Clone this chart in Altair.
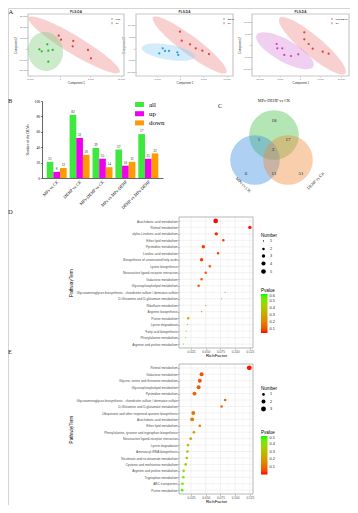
import altair as alt
import pandas as pd

W, H = 342, 497
SANS = "Liberation Sans"
SERIF = "Liberation Serif"

# ---------------- A: PLS-DA score plots ----------------
a1_group = ["MPs"] * 6 + ["CK"] * 6
a1_t1 = [-2080, -3390, -3000, -1920, -1200, -1920, -210, 160, 2180, 2080, 4590, 5080]
a1_t2 = [3700, -930, -2780, -2220, -1570, -12400, 11670, 7960, 6760, 1850, -1570, -9260]
a2_group = ["DEHP"] * 6 + ["CK"] * 6
a2_t1 = [-3710, -4440, -3220, -2360, -580, -370, 0, 370, 2150, 3370, 4790, 6220]
a2_t2 = [0, -2140, -1150, -1150, -1710, -2860, 7090, 3250, 1710, 0, -1030, -2440]
a3_group = ["MPs-DEHP"] * 6 + ["CK"] * 6
a3_t1 = [-5710, -5560, -4340, -3850, -2210, -420, 1050, 1050, 2130, 3110, 5560, 7030]
a3_t2 = [430, -1410, -1410, -4280, -4710, -3990, 5440, 2440, 430, -1590, -2870, -3730]

# ellipse centres (score units)
a1_ell_cx = [2330, -2380]
a1_ell_cy = [3060, -2960]
a2_ell_cx = [2080, -2510]
a2_ell_cy = [1410, -1670]
a3_ell_cx = [3060, -3680]
a3_ell_cy = [-340, -2490]

# ---------------- B: DEM counts ----------------
b_cats = ["MPs vs CK", "DEHP vs CK", "MPs-DEHP vs CK", "MPs vs MPs-DEHP", "DEHP vs MPs-DEHP"]
b_types = ["all", "up", "down"]
b_all = [21, 82, 39, 37, 57]
b_up = [8, 52, 25, 16, 25]
b_down = [13, 30, 14, 21, 32]

# ---------------- C: Venn ----------------
venn_sets = ["MPs-DEHP vs CK", "MPs vs CK", "DEHP vs CK"]
venn_cx = [42, 23, 56]
venn_cy = [65, 40, 40]
venn_counts = [18, 1, 17, 3, 6, 11, 51]
venn_count_x = [42, 27, 56, 41, 14, 42, 69]
venn_count_y = [80, 61, 61, 51, 27, 27, 27]

# ---------------- D / E: KEGG enrichment ----------------
d_terms = ["Arachidonic acid metabolism", "Retinol metabolism", "alpha-Linolenic acid metabolism",
           "Ether lipid metabolism", "Pyrimidine metabolism", "Linoleic acid metabolism",
           "Biosynthesis of unsaturated fatty acids", "Lysine biosynthesis",
           "Neuroactive ligand-receptor interaction", "Galactose metabolism",
           "Glycerophospholipid metabolism",
           "Glycosaminoglycan biosynthesis - chondroitin sulfate / dermatan sulfate",
           "D-Glutamine and D-glutamate metabolism", "Riboflavin metabolism",
           "Arginine biosynthesis", "Purine metabolism", "Lysine degradation",
           "Fatty acid biosynthesis", "Phenylalanine metabolism", "Arginine and proline metabolism"]
d_rich = [0.067, 0.125, 0.068, 0.080, 0.046, 0.071, 0.043, 0.057, 0.050, 0.043,
          0.038, 0.083, 0.077, 0.050, 0.043, 0.0204, 0.019, 0.017, 0.016, 0.012]
d_number = [5, 3, 3, 2, 3, 2, 3, 2, 2, 2, 2, 1, 1, 1, 1, 2, 1, 1, 1, 1]
d_pvalue = [0.046, 0.05, 0.06, 0.08, 0.08, 0.085, 0.085, 0.11, 0.12, 0.12,
            0.13, 0.16, 0.17, 0.19, 0.21, 0.32, 0.45, 0.50, 0.53, 0.58]

e_terms = ["Retinol metabolism", "Galactose metabolism", "Glycine, serine and threonine metabolism",
           "Glycerophospholipid metabolism", "Pyrimidine metabolism",
           "Glycosaminoglycan biosynthesis - chondroitin sulfate / dermatan sulfate",
           "D-Glutamine and D-glutamate metabolism",
           "Ubiquinone and other terpenoid-quinone biosynthesis", "Arachidonic acid metabolism",
           "Ether lipid metabolism", "Phenylalanine, tyrosine and tryptophan biosynthesis",
           "Neuroactive ligand-receptor interaction", "Lysine degradation",
           "Aminoacyl-tRNA biosynthesis", "Nicotinate and nicotinamide metabolism",
           "Cysteine and methionine metabolism", "Arginine and proline metabolism",
           "Tryptophan metabolism", "ABC transporters", "Purine metabolism"]
e_rich = [0.124, 0.043, 0.040, 0.038, 0.031, 0.083, 0.077, 0.029, 0.027, 0.040,
          0.030, 0.0246, 0.020, 0.019, 0.018, 0.016, 0.0126, 0.012, 0.0107, 0.010]
e_number = [3, 2, 2, 2, 2, 1, 1, 2, 2, 1, 1, 1, 1, 1, 1, 1, 1, 1, 1, 1]
e_pvalue = [0.01, 0.06, 0.065, 0.07, 0.09, 0.10, 0.11, 0.12, 0.13, 0.16,
            0.20, 0.23, 0.28, 0.30, 0.31, 0.34, 0.42, 0.43, 0.46, 0.48]

rich_major = [0.025, 0.050, 0.075, 0.100, 0.125]
rich_minor = [0.0125, 0.0375, 0.0625, 0.0875, 0.1125]

one = pd.DataFrame({"o": [0]})


def ellipse_path(ratio):
    k = 0.5523
    r = ratio
    kr = k * r
    return (f"M1,0C1,{kr:.4f},{k:.4f},{r:.4f},0,{r:.4f}"
            f"C{-k:.4f},{r:.4f},-1,{kr:.4f},-1,0"
            f"C-1,{-kr:.4f},{-k:.4f},{-r:.4f},0,{-r:.4f}"
            f"C{k:.4f},{-r:.4f},1,{-kr:.4f},1,0Z")


def frame(x0, x1, y0, y1, color, width):
    return alt.Chart(one).mark_rect(fillOpacity=0, stroke=color, strokeWidth=width).encode(
        x=alt.value(x0), x2=alt.value(x1), y=alt.value(y0), y2=alt.value(y1))


def pls_panel(t1, t2, groups, order, colors, ecx, ecy, erx, ery, eang, efill,
              xr, xdom, xt, ydom, yt, leg_x):
    yr = [68, 6]
    xsc = alt.Scale(domain=xdom, range=xr, nice=False, zero=False)
    ysc = alt.Scale(domain=ydom, range=yr, nice=False, zero=False)
    axc = dict(labelFont=SANS, titleFont=SANS, labelFontSize=2.3, titleFontSize=2.8,
               titleFontWeight="normal", tickSize=1, tickWidth=0.4, tickColor="#666",
               labelColor="#555", titleColor="#333", domain=False, grid=False,
               labelPadding=0.5, titlePadding=1, labelOverlap=False, labelFlush=False)
    xax = alt.Axis(orient="bottom", offset=yr[0] - H, values=xt, title="Component 1", **axc)
    yax = alt.Axis(orient="left", offset=-xr[0], values=yt, title="Component 2", **axc)
    ell_df = pd.DataFrame({
        "cx": ecx, "cy": ecy,
        "path": [ellipse_path(b / a) for a, b in zip(erx, ery)],
        "sz": [(2 * a) ** 2 for a in erx],
        "ang": eang, "fill": efill})
    ell = alt.Chart(ell_df).mark_point(filled=True, opacity=0.4, strokeWidth=0).encode(
        x=alt.X("cx:Q", scale=xsc, axis=xax),
        y=alt.Y("cy:Q", scale=ysc, axis=yax),
        shape=alt.Shape("path:N", scale=None),
        size=alt.Size("sz:Q", scale=None),
        angle=alt.Angle("ang:Q", scale=None),
        color=alt.Color("fill:N", scale=None),
    )
    pts_df = pd.DataFrame({"t1": t1, "t2": t2, "group": groups})
    pts = alt.Chart(pts_df).mark_point(filled=True, size=5, opacity=1).encode(
        x=alt.X("t1:Q", scale=xsc, axis=xax),
        y=alt.Y("t2:Q", scale=ysc, axis=yax),
        color=alt.Color("group:N", scale=alt.Scale(domain=order, range=colors),
                        legend=alt.Legend(orient="none", legendX=leg_x, legendY=9, title=None,
                                          labelFontSize=2.4, labelFont=SANS, symbolSize=4,
                                          symbolType="square", rowPadding=0.3,
                                          labelOffset=1.5)),
    )
    fr = frame(xr[0], xr[1], yr[1], yr[0], "#c8c8c8", 1.2)
    return alt.layer(fr, ell, pts)


a1 = pls_panel(a1_t1, a1_t2, a1_group, ["MPs", "CK"], ["#2fb52f", "#e23b3b"],
               a1_ell_cx, a1_ell_cy, [53, 17.5], [9, 19.5], [31, -10],
               ["#f08a8a", "#7ccc7c"],
               [20, 116], [-5250, 10500], [-5000, 0, 5000, 10000],
               [-25650, 31750], [-20000, -10000, 0, 10000, 20000, 30000], 102)
a2 = pls_panel(a2_t1, a2_t2, a2_group, ["DEHP", "CK"], ["#2a9fe0", "#e23b3b"],
               a2_ell_cx, a2_ell_cy, [46, 27], [9, 7.5], [37, 9.6],
               ["#f08a8a", "#8fd0f5"],
               [128, 225], [-9440, 11370], [-5000, 0, 5000, 10000],
               [-11840, 14660], [-10000, -5000, 0, 5000, 10000], 214)
a3 = pls_panel(a3_t1, a3_t2, a3_group, ["MPs-DEHP", "CK"], ["#cc3ccc", "#e23b3b"],
               a3_ell_cx, a3_ell_cy, [43, 32.5], [10, 11], [40, 29],
               ["#f08a8a", "#dd88dd"],
               [244, 341], [-11760, 12010], [-10000, -5000, 0, 5000, 10000],
               [-13282, 13282], [-10000, -5000, 0, 5000, 10000], 322)

# ---------------- B ----------------
b_df = pd.DataFrame({"cmp": b_cats * 3,
                     "type": ["all"] * 5 + ["up"] * 5 + ["down"] * 5,
                     "n": b_all + b_up + b_down})
bxs = alt.Scale(domain=b_cats, range=[34, 155], paddingInner=0.127, paddingOuter=0.205)
bys = alt.Scale(domain=[0, 100], range=[170, 93], nice=False, zero=True)
boff = alt.Scale(domain=b_types, paddingInner=0, paddingOuter=0)
bcol = alt.Scale(domain=b_types, range=["#3fe83f", "#ee00ee", "#ff9a00"])
leg_rect = "M-1.6,-0.9L1.6,-0.9L1.6,0.9L-1.6,0.9Z"
b_xax = alt.Axis(orient="bottom", offset=170 - H, labelAngle=-45, title=None,
                 labelFont=SERIF, labelFontSize=4.4, labelColor="#000",
                 tickSize=0, domainColor="#000", domainWidth=0.6,
                 labelPadding=1.5, labelOverlap=False, labelLimit=200)
b_yax = alt.Axis(orient="left", offset=-34, values=[0, 20, 40, 60, 80, 100],
                 title="Number of the DEMs", labelFont=SERIF, labelFontSize=3.6,
                 titleFont=SERIF, titleFontSize=3.6, titleFontWeight="normal",
                 tickSize=1.5, tickWidth=0.5, tickColor="#000", labelColor="#000",
                 domainColor="#000", domainWidth=0.6, grid=False,
                 labelPadding=1, titlePadding=5, labelOverlap=False)
bars = alt.Chart(b_df).mark_bar().encode(
    x=alt.X("cmp:N", scale=bxs, sort=b_cats, axis=b_xax),
    xOffset=alt.XOffset("type:N", scale=boff, sort=b_types),
    y=alt.Y("n:Q", scale=bys, axis=b_yax),
    color=alt.Color("type:N", scale=bcol, sort=b_types,
                    legend=alt.Legend(orient="none", legendX=128, legendY=93, title=None,
                                      labelFont=SERIF, labelFontSize=7, labelColor="#000",
                                      symbolType=leg_rect, symbolSize=31, symbolStrokeWidth=0,
                                      symbolOpacity=1, rowPadding=1.2, labelOffset=6)),
)
bar_txt = alt.Chart(b_df).mark_text(font=SERIF, fontSize=3.4, baseline="bottom", dy=-0.8,
                                    color="#222").encode(
    x=alt.X("cmp:N", scale=bxs, sort=b_cats, axis=b_xax),
    xOffset=alt.XOffset("type:N", scale=boff, sort=b_types),
    y=alt.Y("n:Q", scale=bys, axis=b_yax),
    text="n:Q",
)
b_layer = alt.layer(bars, bar_txt)

# ---------------- C ----------------
vxs = alt.Scale(domain=[0, 100], range=[224, 324], nice=False, zero=False)
vys = alt.Scale(domain=[0, 100], range=[192, 92], nice=False, zero=False)
venn_df = pd.DataFrame({"set": venn_sets, "cx": venn_cx, "cy": venn_cy})
circles = alt.Chart(venn_df).mark_circle(size=2463, opacity=0.42).encode(
    x=alt.X("cx:Q", scale=vxs, axis=None),
    y=alt.Y("cy:Q", scale=vys, axis=None),
    color=alt.Color("set:N", scale=alt.Scale(domain=venn_sets,
                                             range=["#4cc24c", "#3d8fe0", "#ef8a3a"]),
                    legend=None),
)
cnt_df = pd.DataFrame({"n": venn_counts, "x": venn_count_x, "y": venn_count_y})
counts = alt.Chart(cnt_df).mark_text(font=SERIF, fontSize=5, color="#222").encode(
    x=alt.X("x:Q", scale=vxs, axis=None),
    y=alt.Y("y:Q", scale=vys, axis=None),
    text="n:Q",
)
set_lab_df = pd.DataFrame({"set": venn_sets, "x": [42, 11, 84], "y": [99, 15, 19],
                           "ang": [0, 45, 315]})
set_labels = alt.Chart(set_lab_df).mark_text(font=SERIF, fontSize=4.3, color="#222").encode(
    x=alt.X("x:Q", scale=vxs, axis=None),
    y=alt.Y("y:Q", scale=vys, axis=None),
    angle=alt.Angle("ang:Q", scale=None),
    text="set:N",
)
c_layer = alt.layer(circles, counts, set_labels)


# ---------------- D / E ----------------
def kegg_panel(terms, rich, number, pval, top, bottom, size_dom, size_rng, size_vals,
               p_dom, p_vals, leg_num_y, leg_p_y, grad_len):
    x0, x1 = 171, 245
    df = pd.DataFrame({"term": terms, "rich": rich, "num": number, "p": pval})
    xs = alt.Scale(domain=[0.0047, 0.1303], range=[x0, x1], nice=False, zero=False)
    ys = alt.Scale(type="point", domain=terms, range=[top, bottom], padding=0.6)
    xax = alt.Axis(orient="bottom", offset=bottom - H, values=rich_major,
                   format=".3f", title="RichFactor", labelFont=SANS,
                   labelFontSize=3.2, labelColor="#4d4d4d", tickSize=1.2,
                   tickWidth=0.4, tickColor="#333", domain=False, grid=False,
                   labelPadding=0.5, titleFont=SANS, titleFontSize=4.4,
                   titleFontWeight="normal", titlePadding=1, titleColor="#000",
                   labelFlush=False, labelOverlap=False)
    yax = alt.Axis(orient="left", offset=-x0, title="PathwayTerm", labelFont=SANS,
                   labelFontSize=3.2, labelColor="#4d4d4d", labelLimit=400,
                   tickSize=1.2, tickWidth=0.4, tickColor="#333", domain=False,
                   grid=False, labelPadding=0.6, titleFont=SANS, titleFontSize=4.6,
                   titleFontWeight="normal", titlePadding=2.5, titleColor="#000",
                   labelOverlap=False)
    minor = alt.Chart(pd.DataFrame({"rich": rich_minor})).mark_rule(
        color="#f3f3f3", strokeWidth=0.35).encode(
        x=alt.X("rich:Q", scale=xs, axis=xax), y=alt.value(top), y2=alt.value(bottom))
    major = alt.Chart(pd.DataFrame({"rich": rich_major})).mark_rule(
        color="#e4e4e4", strokeWidth=0.5).encode(
        x=alt.X("rich:Q", scale=xs, axis=xax), y=alt.value(top), y2=alt.value(bottom))
    yrule = alt.Chart(df).mark_rule(color="#e4e4e4", strokeWidth=0.5).encode(
        y=alt.Y("term:N", scale=ys, sort=None, axis=yax),
        x=alt.value(x0), x2=alt.value(x1))
    fr = frame(x0, x1, top, bottom, "#9a9a9a", 0.7)
    pts = alt.Chart(df).mark_circle(opacity=1).encode(
        x=alt.X("rich:Q", scale=xs, axis=xax),
        y=alt.Y("term:N", scale=ys, sort=None, axis=yax),
        size=alt.Size("num:Q", scale=alt.Scale(domain=size_dom, range=size_rng, zero=False),
                      legend=alt.Legend(orient="none", legendX=253, legendY=leg_num_y,
                                        title="Number", titleFont=SANS, titleFontSize=4.5,
                                        titleFontWeight="normal", titleColor="#000",
                                        labelFont=SANS, labelFontSize=3.8, labelColor="#222",
                                        values=size_vals, format="d", symbolFillColor="#000",
                                        symbolStrokeWidth=0, symbolOpacity=1,
                                        rowPadding=3, titlePadding=2, labelOffset=4)),
        color=alt.Color("p:Q", scale=alt.Scale(domain=p_dom, range=["#ff0000", "#00ff00"],
                                               interpolate="lab"),
                        legend=alt.Legend(orient="none", legendX=253, legendY=leg_p_y,
                                          direction="vertical", title="Pvalue",
                                          titleFont=SANS, titleFontSize=4.5,
                                          titleFontWeight="normal", titleColor="#000",
                                          labelFont=SANS, labelFontSize=3.8,
                                          labelColor="#222", values=p_vals, format=".1f",
                                          gradientLength=grad_len, gradientThickness=6.5,
                                          gradientStrokeWidth=0, titlePadding=1.5,
                                          labelOffset=2, labelOverlap=False)),
    )
    return alt.layer(minor, major, yrule, fr, pts)


d_layer = kegg_panel(d_terms, d_rich, d_number, d_pvalue, 209, 340, [1, 5], [1.3, 22],
                     [1, 2, 3, 4, 5], [0.045, 0.6], [0.1, 0.2, 0.3, 0.4, 0.5, 0.6],
                     224.5, 280, 39)
e_layer = kegg_panel(e_terms, e_rich, e_number, e_pvalue, 356, 486, [1, 3], [7, 24],
                     [1, 2, 3], [0.005, 0.5], [0.1, 0.2, 0.3, 0.4, 0.5],
                     378, 422, 38.5)

# ---------------- annotations ----------------
letter_df = pd.DataFrame({"t": ["A", "B", "C", "D", "E"],
                          "x": [0.5, 0, 210, 0, 0], "y": [3.5, 92.5, 98, 203.5, 344]})
letters = alt.Chart(letter_df).mark_text(font=SERIF, fontSize=6.5, align="left",
                                         baseline="middle", color="#222").encode(
    x=alt.X("x:Q", scale=None), y=alt.Y("y:Q", scale=None), text="t:N")
title_df = pd.DataFrame({"t": ["PLS-DA"] * 3, "x": [68, 176.5, 292.5], "y": [3.5] * 3})
titles = alt.Chart(title_df).mark_text(font=SANS, fontSize=3.2, fontWeight="bold",
                                       baseline="middle", color="#333").encode(
    x=alt.X("x:Q", scale=None), y=alt.Y("y:Q", scale=None), text="t:N")

chart = alt.layer(a1, a2, a3, b_layer, c_layer, d_layer, e_layer, letters, titles).resolve_scale(
    x="independent", y="independent", color="independent", size="independent",
    shape="independent"
).properties(width=W, height=H, padding=0).configure_view(stroke="#d4d4d4", strokeWidth=1)

chart.save("out.html", embed_options={"renderer": "svg", "actions": False})
